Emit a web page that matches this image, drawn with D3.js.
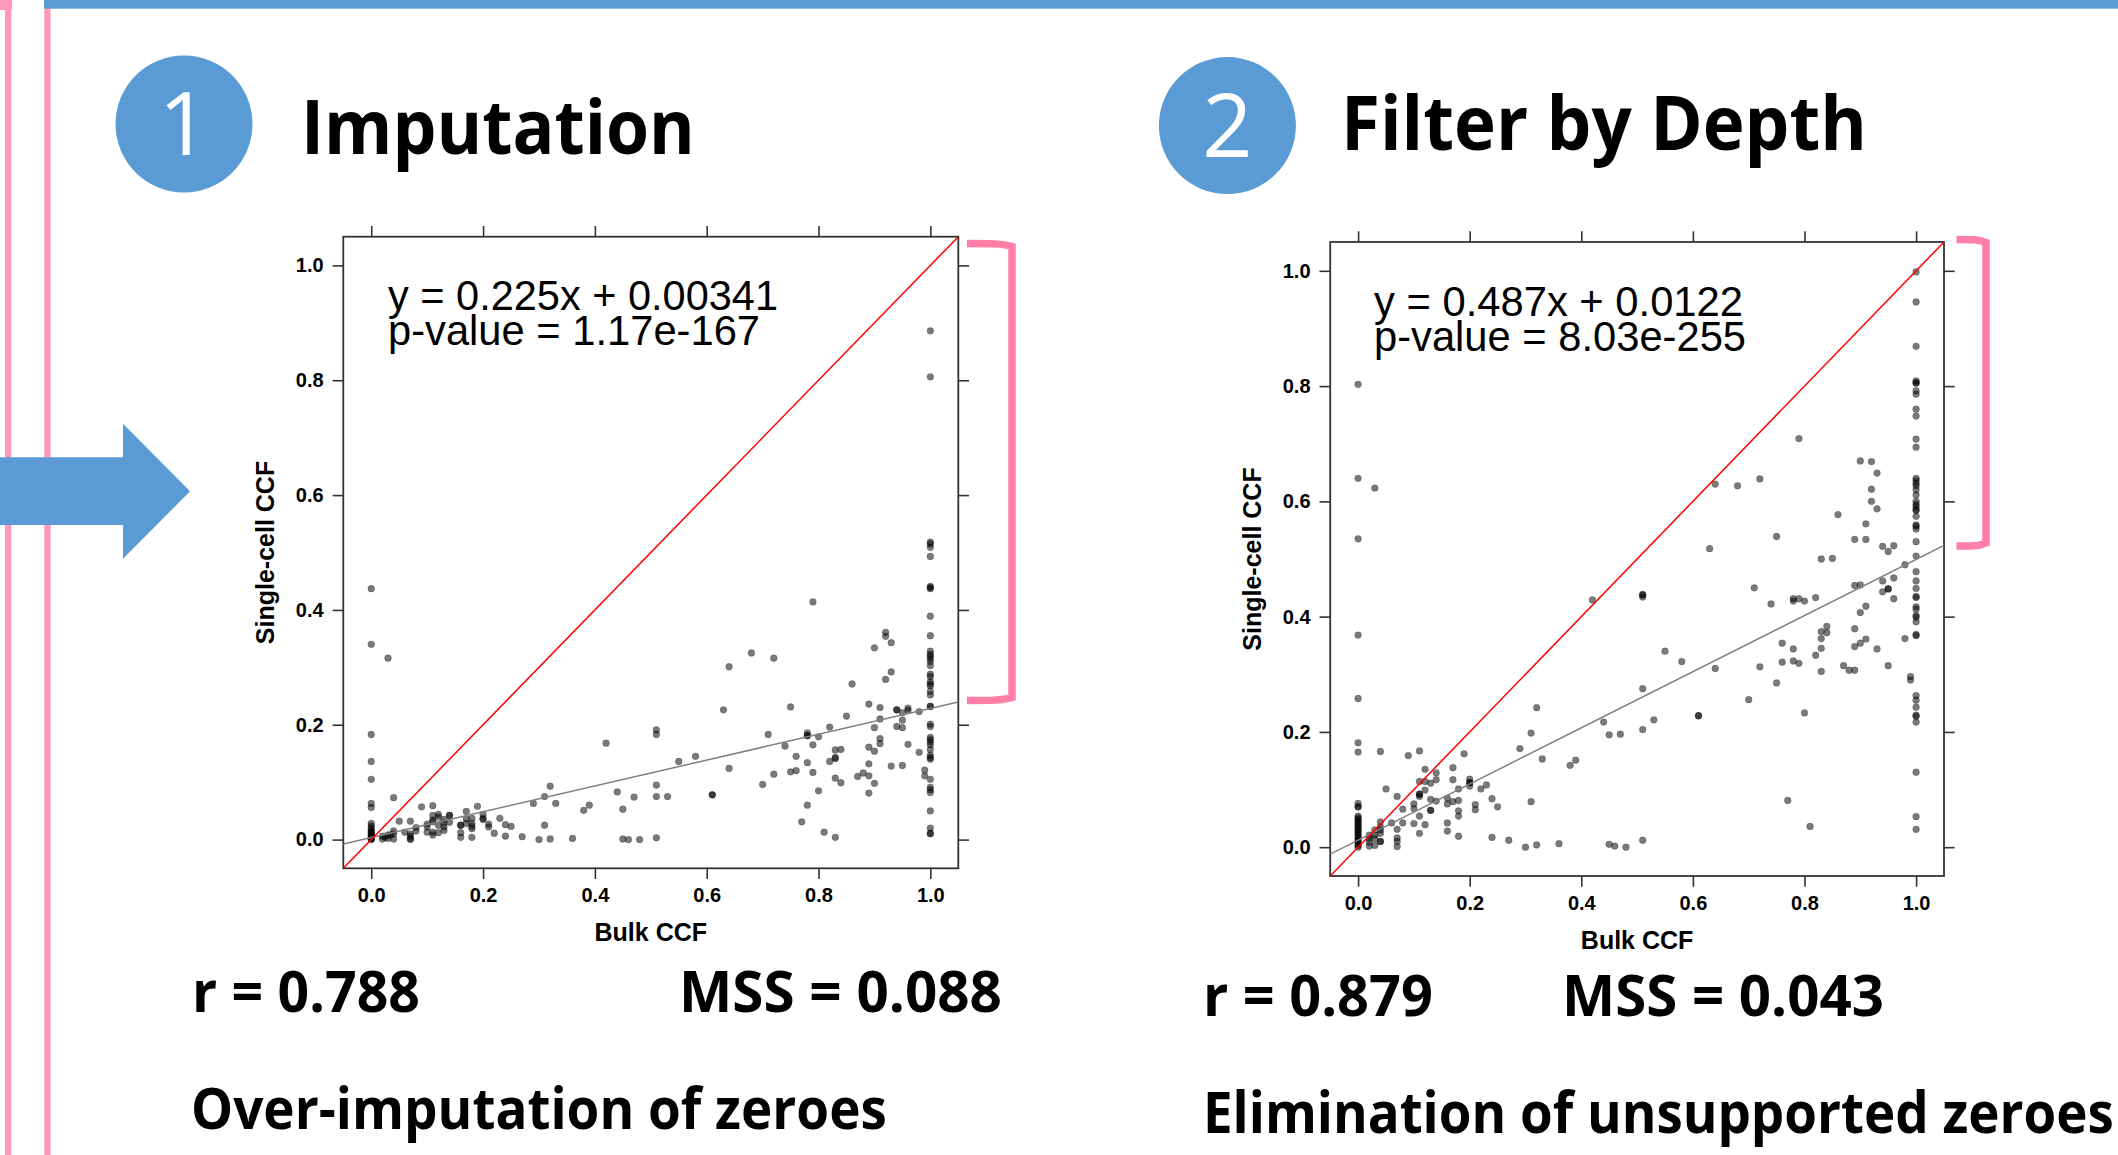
<!DOCTYPE html>
<html>
<head>
<meta charset="utf-8">
<title>Imputation and filter by depth</title>
<script src="https://cdn.jsdelivr.net/npm/d3@7"></script>
<style>
  html, body { margin: 0; padding: 0; background: #fff; overflow: hidden; }
  svg { display: block; }
  .heading { font-family: "Open Sans", sans-serif; font-weight: 700; fill: #000; }
  .tick text, .axis-title { font-family: "Liberation Sans", Arial, sans-serif; font-weight: 700; fill: #000; }
  .note { font-family: "Liberation Sans", Arial, sans-serif; fill: #000; }
</style>
</head>
<body>
<div id="chart"></div>
<script>
const WIDTH = 2118;
const HEIGHT = 1155;
const BLUE = '#5b9bd5';
const RAIL_PINK = '#ff99bb';
const BRACKET_PINK = '#ff7fa7';

const tickValues = [0, 0.2, 0.4, 0.6, 0.8, 1.0];

// bulk CCF, single-cell CCF
const imputationPoints = [
  [0,.437],[0,.340],[0,.183],[0,.136],[0,.105],[0,.063],[0,.056],[0,.028],[0,.024],[0,.020],[0,.017],[0,.014],[0,.012],[0,.010],[0,.008],[0,.006],[0,.004],[0,.002],[0,.001],[0,0],
  [.03,.316],[.04,.073],[.09,.057],[.11,.059],[.05,.032],[.07,.032],[.08,.021],[.08,.015],[.06,.013],[.07,.010],[.07,.006],[.07,.002],[.07,0],
  [.02,.006],[.02,.001],[.03,.008],[.03,.002],[.035,.008],[.04,.015],[.04,.010],[.04,.001],[.025,.004],
  [.10,.027],[.10,.022],[.10,.013],[.11,.042],[.11,.034],[.11,.031],[.11,.013],[.11,.008],[.12,.044],[.12,.039],[.12,.025],[.12,.012],[.13,.035],[.13,.029],[.13,.022],[.13,.016],[.14,.042],[.14,.042],[.14,.030],
  [.16,.025],[.16,.025],[.16,.012],[.16,.004],[.17,.049],[.17,.036],[.17,.028],[.18,.037],[.18,.028],[.18,.023],[.18,.019],[.18,.004],[.19,.058],[.20,.044],[.20,.037],[.20,.035],[.21,.027],[.21,.022],[.22,.011],[.23,.037],[.24,.026],[.24,.006],[.25,.023],[.27,.005],
  [.29,.063],[.30,0],[.31,.075],[.31,.025],[.32,.093],[.32,.001],[.33,.063],[.36,.002],[.38,.051],[.39,.060],[.42,.168],[.44,.083],[.45,.053],[.45,.001],[.46,0],[.47,.074],[.48,0],
  [.51,.191],[.51,.183],[.51,.095],[.51,.075],[.51,.003],[.53,.075],[.55,.136],[.58,.145],[.61,.078],[.61,.078],[.63,.226],[.64,.301],[.64,.124],
  [.79,.414],[.68,.325],[.72,.316],[.75,.231],[.71,.183],[.74,.163],[.78,.186],[.78,.181],[.78,.181],[.80,.179],[.79,.165],[.76,.145],[.78,.134],[.75,.118],[.76,.120],[.79,.117],[.72,.114],[.70,.096],[.80,.085],[.78,.060],[.77,.031],[.81,.013],[.83,.004],
  [.82,.196],[.85,.215],[.86,.271],[.83,.156],[.84,.157],[.83,.143],[.83,.141],[.82,.136],[.83,.107],[.84,.099],[.87,.110],[.88,.116],[.89,.111],[.89,.161],[.89,.132],[.89,.081],[.90,.154],[.90,.098],[.89,.236],[.90,.195],[.91,.230],[.91,.210],[.91,.176],[.91,.167],[.90,.334],[.92,.361],[.92,.354],[.93,.343],[.93,.292],[.92,.279],[.93,.128],[.94,.226],[.94,.226],[.94,.197],[.95,.221],[.95,.208],[.95,.195],[.95,.129],[.96,.229],[.96,.225],[.96,.166],[.98,.223],[.98,.152],[.99,.121],[.99,.111],
  [1,.886],[1,.806],[1,.518],[1,.515],[1,.509],[1,.493],[1,.441],[1,.439],[1,.437],[1,.389],[1,.355],[1,.328],[1,.323],[1,.319],[1,.315],[1,.310],[1,.303],[1,.288],[1,.284],[1,.275],[1,.271],[1,.268],[1,.258],[1,.252],[1,.232],[1,.232],[1,.201],[1,.197],[1,.178],[1,.174],[1,.170],[1,.165],[1,.157],[1,.147],[1,.143],[1,.140],[1,.105],[1,.091],[1,.087],[1,.082],[1,.050],[1,.020],[1,.011],[1,.010]
];

const filterPoints = [
  [0,.803],[0,.640],[0,.535],[0,.368],[0,.258],[0,.181],[0,.165],[0,.076],[0,.070],[0,.070],[0,.054],[0,.051],[0,.048],[0,.045],[0,.042],[0,.039],[0,.036],[0,.033],[0,.030],[0,.027],[0,.024],[0,.021],[0,.018],[0,.015],[0,.012],[0,.009],[0,.006],[0,.003],[0,0],
  [.03,.623],[.64,.630],[.68,.627],[.72,.639],[.79,.709],[.75,.539],[.63,.518],[.90,.670],[.92,.669],[.93,.649],[.92,.621],[.92,.600],[.93,.587],[.86,.577],[.91,.561],[.89,.534],[.91,.534],[.94,.522],[.95,.513],[.96,.523],[.83,.500],[.85,.501],[.98,.490],
  [.89,.454],[.90,.455],[.94,.462],[.96,.467],[.94,.443],[.95,.448],[.95,.448],[.96,.431],[.71,.450],[.74,.422],[.78,.431],[.78,.427],[.79,.431],[.80,.427],[.82,.433],[.91,.418],[.90,.407],
  [.84,.383],[.84,.372],[.83,.374],[.83,.362],[.83,.345],[.82,.333],[.89,.379],[.89,.348],[.90,.354],[.91,.361],[.93,.344],[.98,.362],[.76,.354],[.78,.344],[.76,.321],[.78,.323],[.79,.319],[.83,.305],[.87,.315],[.88,.307],[.89,.307],[.95,.315],[.99,.296],[.99,.290],[.75,.285],[.72,.313],[.64,.310],[.58,.322],[.70,.256],[.61,.228],[.61,.228],[.80,.233],[.77,.081],[.81,.036],
  [.42,.429],[.51,.438],[.51,.438],[.51,.434],[.55,.340],[.51,.275],[.53,.221],[.51,.204],[.44,.217],[.45,.195],[.47,.196],[.32,.242],[.31,.198],[.29,.171],[.33,.153],[.38,.142],[.39,.151],[.31,.079],
  [.04,.166],[.09,.159],[.11,.167],[.19,.162],[.12,.135],[.14,.129],[.17,.138],[.11,.114],[.12,.114],[.13,.111],[.14,.117],[.17,.117],[.20,.118],[.20,.112],[.20,.112],[.20,.106],[.23,.108],[.22,.101],[.18,.101],[.12,.099],[.05,.101],[.07,.088],[.11,.092],[.11,.092],[.11,.088],[.10,.075],[.10,.067],[.08,.066],[.13,.083],[.14,.080],[.16,.085],[.16,.075],[.17,.079],[.18,.081],[.18,.063],[.18,.054],[.21,.074],[.21,.065],[.24,.084],[.25,.070],[.13,.064],[.13,.064],[.11,.054],[.06,.042],[.08,.042],[.10,.041],[.12,.039],[.16,.042],[.16,.028],[.11,.024],[.18,.019],[.24,.017],[.27,.012],[.30,0],[.32,.004],[.36,.006],[.45,.005],[.46,.002],[.48,0],[.51,.012],
  [.04,.044],[.04,.035],[.04,.030],[.04,.024],[.04,.010],[.04,.010],[.03,.030],[.03,.021],[.03,.015],[.03,.003],[.02,.021],[.02,.015],[.02,.009],[.02,.002],[.07,.031],[.07,.016],[.07,.010],[.07,.001],
  [1,.998],[1,.946],[1,.869],[1,.809],[1,.806],[1,.805],[1,.792],[1,.786],[1,.760],[1,.748],[1,.708],[1,.694],[1,.640],[1,.636],[1,.631],[1,.627],[1,.620],[1,.611],[1,.600],[1,.595],[1,.591],[1,.586],[1,.584],[1,.574],[1,.559],[1,.557],[1,.552],[1,.530],[1,.505],[1,.478],[1,.462],[1,.449],[1,.435],[1,.433],[1,.417],[1,.413],[1,.402],[1,.399],[1,.391],[1,.369],[1,.367],[1,.263],[1,.255],[1,.243],[1,.229],[1,.227],[1,.217],[1,.130],[1,.053],[1,.031]
];

const panels = [
  {
    points: imputationPoints, slope: 0.225, intercept: 0.00341,
    left: 343.3, right: 958.3, top: 236.7, bottom: 868.3,
    equation: 'y = 0.225x + 0.00341', pvalue: 'p-value = 1.17e-167',
    noteX: 388, noteY: 310, eqLen: 390, pLen: 372
  },
  {
    points: filterPoints, slope: 0.487, intercept: 0.0122,
    left: 1330.2, right: 1944, top: 242, bottom: 876,
    equation: 'y = 0.487x + 0.0122', pvalue: 'p-value = 8.03e-255',
    noteX: 1374, noteY: 315.7, eqLen: 369, pLen: 372
  }
];

const svg = d3.select('#chart').append('svg')
  .attr('width', WIDTH)
  .attr('height', HEIGHT);

// slide furniture
svg.append('rect').attr('x', 5).attr('y', 0).attr('width', 6.3).attr('height', HEIGHT).attr('fill', RAIL_PINK);
svg.append('rect').attr('x', 44.3).attr('y', 0).attr('width', 6.3).attr('height', HEIGHT).attr('fill', RAIL_PINK);
svg.append('rect').attr('x', 0).attr('y', 0).attr('width', 12).attr('height', 10).attr('fill', RAIL_PINK);
svg.append('rect').attr('x', 44).attr('y', 0).attr('width', WIDTH - 44).attr('height', 8.7).attr('fill', BLUE);
svg.append('path')
  .attr('d', 'M0,457.3H123V423.7L190,491.3L123,558.7V525H0Z')
  .attr('fill', BLUE);

// Open Sans runs wider than the slide's font, so squeeze each heading to its width
const heading = (x, y, size, len, str) => {
  const t = svg.append('text')
    .attr('class', 'heading')
    .attr('font-size', size)
    .text(str);
  const natural = t.node().getComputedTextLength();
  t.attr('transform', `translate(${x},${y}) scale(${len / natural},1)`);
};

const badge = (cx, cy, str) => {
  svg.append('circle').attr('cx', cx).attr('cy', cy).attr('r', 68.5).attr('fill', BLUE);
  svg.append('text')
    .attr('x', cx)
    .attr('y', cy + 31)
    .attr('text-anchor', 'middle')
    .attr('font-family', '"Open Sans", sans-serif')
    .attr('font-weight', 500)
    .attr('font-size', 88)
    .attr('fill', '#fff')
    .text(str);
};

badge(184, 124, '1');
badge(1227.4, 125.6, '2');
heading(301, 154, 76, 394, 'Imputation');
heading(1341, 150, 76, 526, 'Filter by Depth');
heading(192, 1011.5, 57, 228, 'r = 0.788');
heading(679, 1011.5, 57, 323, 'MSS = 0.088');
heading(191, 1129, 57, 696, 'Over-imputation of zeroes');
heading(1203, 1015.5, 57, 230, 'r = 0.879');
heading(1562, 1015.5, 57, 322, 'MSS = 0.043');
heading(1203, 1133, 57, 911, 'Elimination of unsupported zeroes');

// pink brackets next to the panels
const bracket = (x0, x1, y0, y1) => svg.append('path')
  .attr('d', `M${x0},${y0}C${x0 + 24},${y0} ${x1 - 10},${y0} ${x1},${y0 + 3}V${y1 - 3}C${x1 - 10},${y1} ${x0 + 24},${y1} ${x0},${y1}`)
  .attr('fill', 'none')
  .attr('stroke', BRACKET_PINK)
  .attr('stroke-width', 7.5);

bracket(967, 1012, 243.5, 700.5);
bracket(1956.5, 1986, 239.5, 546);

const drawPanel = (p) => {
  const x = d3.scaleLinear().domain([-0.05, 1.05]).range([p.left, p.right]);
  const y = d3.scaleLinear().domain([-0.05, 1.05]).range([p.bottom, p.top]);
  const g = svg.append('g');
  const fmt = d3.format('.1f');

  const clipId = `clip-${p.left}`.replace('.', '-');
  g.append('clipPath').attr('id', clipId).append('rect')
    .attr('x', p.left).attr('y', p.top)
    .attr('width', p.right - p.left).attr('height', p.bottom - p.top);

  const axes = [
    [d3.axisBottom(x).tickFormat(fmt), `translate(0,${p.bottom})`],
    [d3.axisTop(x).tickFormat(''), `translate(0,${p.top})`],
    [d3.axisLeft(y).tickFormat(fmt), `translate(${p.left},0)`],
    [d3.axisRight(y).tickFormat(''), `translate(${p.right},0)`]
  ];
  axes.forEach(([axis, tr]) => {
    const a = g.append('g')
      .attr('transform', tr)
      .call(axis.tickValues(tickValues).tickSize(10.7).tickPadding(9).tickSizeOuter(0));
    a.selectAll('line').attr('stroke', '#333').attr('stroke-width', 1.6);
    a.select('.domain').remove();
    a.selectAll('text').attr('font-size', 20);
  });

  g.append('rect')
    .attr('x', p.left).attr('y', p.top)
    .attr('width', p.right - p.left).attr('height', p.bottom - p.top)
    .attr('fill', 'none')
    .attr('stroke', '#333')
    .attr('stroke-width', 1.8);

  const plot = g.append('g').attr('clip-path', `url(#${clipId})`);

  plot.selectAll('circle')
    .data(p.points)
    .enter()
    .append('circle')
      .attr('cx', d => x(d[0]))
      .attr('cy', d => y(d[1]))
      .attr('r', 3.4)
      .attr('fill', 'rgba(0,0,0,0.52)')
      .attr('stroke', 'rgba(0,0,0,0.3)')
      .attr('stroke-width', 0.6);

  plot.append('line')
    .attr('x1', x(-0.05)).attr('y1', y(p.slope * -0.05 + p.intercept))
    .attr('x2', x(1.05)).attr('y2', y(p.slope * 1.05 + p.intercept))
    .attr('stroke', '#808080')
    .attr('stroke-width', 1.5);

  plot.append('line')
    .attr('x1', x(-0.05)).attr('y1', y(-0.05))
    .attr('x2', x(1.05)).attr('y2', y(1.05))
    .attr('stroke', '#ff0000')
    .attr('stroke-width', 1.5);

  g.append('text')
    .attr('class', 'note')
    .attr('x', p.noteX).attr('y', p.noteY)
    .attr('font-size', 42)
    .attr('textLength', p.eqLen)
    .attr('lengthAdjust', 'spacingAndGlyphs')
    .text(p.equation);

  g.append('text')
    .attr('class', 'note')
    .attr('x', p.noteX).attr('y', p.noteY + 35)
    .attr('font-size', 42)
    .attr('textLength', p.pLen)
    .attr('lengthAdjust', 'spacingAndGlyphs')
    .text(p.pvalue);

  g.append('text')
    .attr('class', 'axis-title')
    .attr('x', (p.left + p.right) / 2)
    .attr('y', p.bottom + 73)
    .attr('text-anchor', 'middle')
    .attr('font-size', 25)
    .text('Bulk CCF');

  g.append('text')
    .attr('class', 'axis-title')
    .attr('transform', `translate(${p.left - 69},${(p.top + p.bottom) / 2}) rotate(-90)`)
    .attr('text-anchor', 'middle')
    .attr('font-size', 25)
    .text('Single-cell CCF');
};

panels.forEach(drawPanel);
</script>
</body>
</html>
